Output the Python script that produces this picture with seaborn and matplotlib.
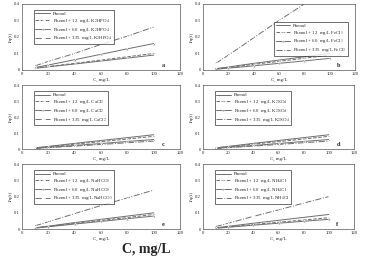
import numpy as np
import pandas as pd
import matplotlib
matplotlib.use("Agg")
import matplotlib.pyplot as plt
import seaborn as sns

# concentration points (mg/L)
conc = [10, 20, 40, 60, 80, 100]

salts = ["K$_2$HPO$_4$", "FeCl$_3$", "CaCl$_2$", "K$_2$SO$_4$", "NaHCO$_3$", "NH$_4$Cl"]
letters = ["a", "b", "c", "d", "e", "f"]
doses = ["12", "60", "335"]

# 1/q values, per panel: phenol, +12, +60, +335
a_vals = [[0.010, 0.019, 0.036, 0.054, 0.072, 0.090],
          [0.012, 0.021, 0.040, 0.060, 0.080, 0.100],
          [0.015, 0.030, 0.062, 0.095, 0.128, 0.160],
          [0.025, 0.052, 0.100, 0.155, 0.205, 0.260]]
b_vals = [[0.008, 0.018, 0.040, 0.060, 0.080, 0.100],
          [0.006, 0.015, 0.034, 0.052, 0.071, 0.090],
          [0.004, 0.011, 0.025, 0.040, 0.055, 0.070],
          [0.040, 0.090, 0.195, 0.300, 0.400, 0.500]]
c_vals = [[0.008, 0.017, 0.036, 0.054, 0.072, 0.090],
          [0.007, 0.015, 0.031, 0.047, 0.063, 0.080],
          [0.005, 0.011, 0.023, 0.035, 0.048, 0.060],
          [0.004, 0.009, 0.019, 0.029, 0.040, 0.050]]
d_vals = [[0.008, 0.017, 0.036, 0.054, 0.072, 0.090],
          [0.007, 0.015, 0.031, 0.047, 0.063, 0.080],
          [0.005, 0.011, 0.023, 0.035, 0.048, 0.060],
          [0.004, 0.009, 0.019, 0.029, 0.040, 0.050]]
e_vals = [[0.008, 0.018, 0.040, 0.060, 0.080, 0.100],
          [0.007, 0.016, 0.035, 0.053, 0.071, 0.090],
          [0.006, 0.014, 0.031, 0.047, 0.064, 0.080],
          [0.020, 0.045, 0.095, 0.145, 0.192, 0.240]]
f_vals = [[0.008, 0.017, 0.036, 0.054, 0.072, 0.090],
          [0.006, 0.013, 0.028, 0.042, 0.056, 0.070],
          [0.005, 0.011, 0.024, 0.036, 0.048, 0.060],
          [0.015, 0.036, 0.078, 0.118, 0.160, 0.200]]
panel_vals = [a_vals, b_vals, c_vals, d_vals, e_vals, f_vals]

# axes boxes in figure fractions
boxes = [[0.060, 0.734, 0.432, 0.251], [0.555, 0.734, 0.415, 0.251],
         [0.060, 0.433, 0.432, 0.243], [0.555, 0.433, 0.412, 0.243],
         [0.060, 0.129, 0.432, 0.247], [0.555, 0.129, 0.412, 0.247]]

sns.set_style("white")
plt.rcParams["font.family"] = ["Liberation Serif", "DejaVu Serif"]
plt.rcParams["mathtext.fontset"] = "stix"

fig = plt.figure(figsize=(3.66, 2.63), dpi=100)

styles = [("-", None), ("--", "."), ("-", "^"), ("-.", "x")]
grey = "#6e6e6e"

for i in range(6):
    ax = fig.add_axes(boxes[i])
    names = ["Phenol"] + ["Phenol + %s  mg/L %s" % (d, salts[i]) for d in doses]
    rows = []
    for name, vals in zip(names, panel_vals[i]):
        for c, v in zip(conc, vals):
            rows.append({"C": c, "q": v, "series": name})
    df = pd.DataFrame(rows)
    for name, (ls, mk) in zip(names, styles):
        sns.lineplot(data=df[df["series"] == name], x="C", y="q", ax=ax,
                     color=grey, linewidth=0.7, linestyle=ls, marker=mk,
                     markersize=1.8, markeredgewidth=0.4, label=name)
    ax.set_xlim(0, 120)
    ax.set_ylim(0, 0.4)
    ax.set_xticks([0, 20, 40, 60, 80, 100, 120])
    ax.set_yticks([0, 0.1, 0.2, 0.3, 0.4])
    ax.set_yticklabels(["0", "0.1", "0.2", "0.3", "0.4"])
    ax.tick_params(labelsize=3.4, length=1, width=0.4, pad=1.5, direction="in")
    ax.set_xlabel("C, mg/L", fontsize=3.6, labelpad=1)
    ax.set_ylabel("1/q(t)", fontsize=3.6, labelpad=1)
    for s in ax.spines.values():
        s.set_linewidth(0.5)
        s.set_color("#555555")
    ax.text(106, 0.018, letters[i], fontsize=4.5, fontweight="bold")
    loc = "center right" if i == 1 else "upper left"
    anchor = (0.97, 0.47) if i == 1 else (0.06, 0.94)
    leg = ax.legend(loc=loc, bbox_to_anchor=anchor, fontsize=3.5, frameon=True,
                    fancybox=False, edgecolor="black", handlelength=3,
                    borderpad=0.3, labelspacing=0.15, handletextpad=0.6)
    leg.get_frame().set_linewidth(0.5)

fig.text(0.40, 0.05, "C, mg/L", fontsize=10, fontweight="bold", ha="center", va="center")

fig.savefig("out.png", dpi=100, facecolor="white")
